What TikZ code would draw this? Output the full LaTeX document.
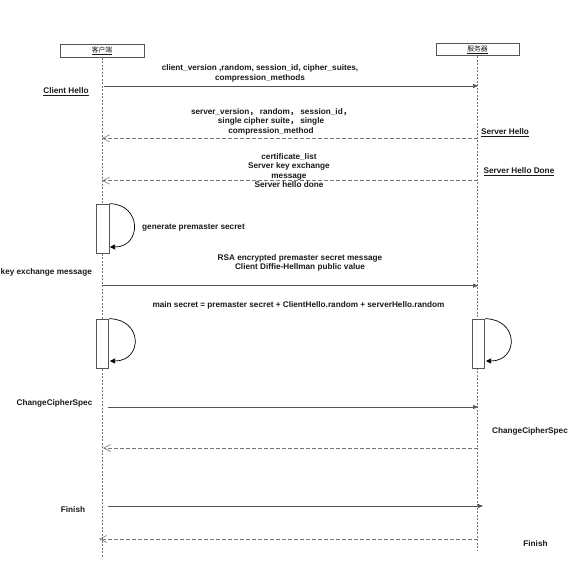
\documentclass[tikz,border=0pt]{standalone}
\usepackage{fontspec}
\setmainfont{Liberation Sans}
\newfontfamily\cjk{Noto Sans CJK SC}
\usetikzlibrary{arrows.meta}
\definecolor{linegray}{HTML}{555555}
\definecolor{dashgray}{HTML}{777777}
\definecolor{txt}{HTML}{1A1A1A}
\newcommand{\fwc}{{\cjk ，}}
\tikzset{
  lbl/.style={font=\fontsize{8.2}{9.6}\selectfont\bfseries, text=txt, inner sep=0pt, align=center},
  actor/.style={draw=linegray, line width=0.6pt, minimum width=84pt, minimum height=12.5pt, inner sep=0pt, font=\cjk\fontsize{6.8}{8}\selectfont, text=txt},
  lifeline/.style={draw=dashgray, line width=0.6pt, dash pattern=on 2pt off 1.5pt},
  callmsg/.style={draw=linegray, line width=0.7pt, -{Triangle[length=5pt,width=4pt]}},
  retmsg/.style={draw=dashgray, line width=0.6pt, dash pattern=on 4pt off 2pt, -{Straight Barb[length=7pt,width=7pt,line width=0.6pt]}},
  actbox/.style={draw=linegray, fill=white, line width=0.6pt, minimum width=12.5pt, minimum height=49pt, inner sep=0pt},
  selfcall/.style={draw=black, line width=0.7pt, -{Triangle[length=5pt,width=5pt]}}
}
\begin{document}
\begin{tikzpicture}[x=1pt,y=-1pt]
\useasboundingbox[fill=white] (0,0) rectangle (578,562);
% actors
\node[actor] (client) at (102,51) {\underline{客户端}};
\node[actor, minimum width=83pt] (server) at (477.5,49.5) {\underline{服务器}};
\coordinate (cend) at (102,558);
\coordinate (send) at (477.5,550);
\draw[lifeline] (client.south) -- (cend);
\draw[lifeline] (server.south) -- (send);

% message 1: Client Hello
\coordinate (m1a) at (104,86);
\coordinate (m1b) at (478,86);
\draw[callmsg] (m1a) -- (m1b);
\node[lbl] (t1) at (260,73.5) {client\_version ,random, session\_id, cipher\_suites,\\compression\_methods};
\node[lbl, anchor=mid] (l1) at (66,91) {\underline{Client Hello}};

% message 2: Server Hello
\coordinate (m2a) at (478,138.3);
\coordinate (m2b) at (102,138.3);
\draw[retmsg] (m2a) -- (m2b);
\node[lbl] (t2) at (271,121.5) {server\_version\fwc\ random\fwc\ session\_id\fwc\\single cipher suite\fwc\ single\\compression\_method};
\node[lbl, anchor=mid] (l2) at (505,132) {\underline{Server Hello}};

% message 3: Server Hello Done
\coordinate (m3a) at (478,180.7);
\coordinate (m3b) at (102,180.7);
\draw[retmsg] (m3a) -- (m3b);
\node[lbl] (t3) at (289,170.5) {certificate\_list\\Server key exchange\\message\\Server hello done};
\node[lbl, anchor=mid] (l3) at (519,171) {\underline{Server Hello Done}};

% self call 1: generate premaster secret
\node[actbox] (a1) at (103,228.5) {};
\coordinate (a1e) at (110,247);
\draw[selfcall] (a1.north east) .. controls (142,204) and (142,247) .. (a1e);
\node[lbl, anchor=mid west] (t4) at (142,227) {generate premaster secret};

% message 4: key exchange
\coordinate (m4a) at (103,285.7);
\coordinate (m4b) at (478,285.7);
\draw[callmsg] (m4a) -- (m4b);
\node[lbl] (t5) at (300,262.7) {RSA encrypted premaster secret message\\Client Diffie-Hellman public value};
\node[lbl, anchor=mid west] (l4) at (0.5,271.7) {key exchange message};

% main secret
\node[lbl, anchor=mid] (t6) at (298.5,305) {main secret = premaster secret + ClientHello.random + serverHello.random};
\node[actbox] (a2) at (102.5,343.5) {};
\coordinate (a2e) at (110,361);
\draw[selfcall] (a2.north east) .. controls (143,319) and (143,361) .. (a2e);
\node[actbox] (a3) at (478.5,343.5) {};
\coordinate (a3e) at (486,361);
\draw[selfcall] (a3.north east) .. controls (519,319) and (519,361) .. (a3e);

% ChangeCipherSpec client
\coordinate (m5a) at (108,407);
\coordinate (m5b) at (478,407);
\draw[callmsg] (m5a) -- (m5b);
\node[lbl, anchor=mid] (l5) at (54.5,403) {ChangeCipherSpec};

% ChangeCipherSpec server
\coordinate (m6a) at (478,448);
\coordinate (m6b) at (103,448);
\draw[retmsg] (m6a) -- (m6b);
\node[lbl, anchor=mid] (l6) at (530,431) {ChangeCipherSpec};

% Finish client
\coordinate (m7a) at (108,506);
\coordinate (m7b) at (483,506);
\draw[callmsg] (m7a) -- (m7b);
\node[lbl, anchor=mid] (l7) at (73,510) {Finish};

% Finish server
\coordinate (m8a) at (478,539);
\coordinate (m8b) at (99,539);
\draw[retmsg] (m8a) -- (m8b);
\node[lbl, anchor=mid] (l8) at (535.5,544) {Finish};
\end{tikzpicture}
\end{document}
